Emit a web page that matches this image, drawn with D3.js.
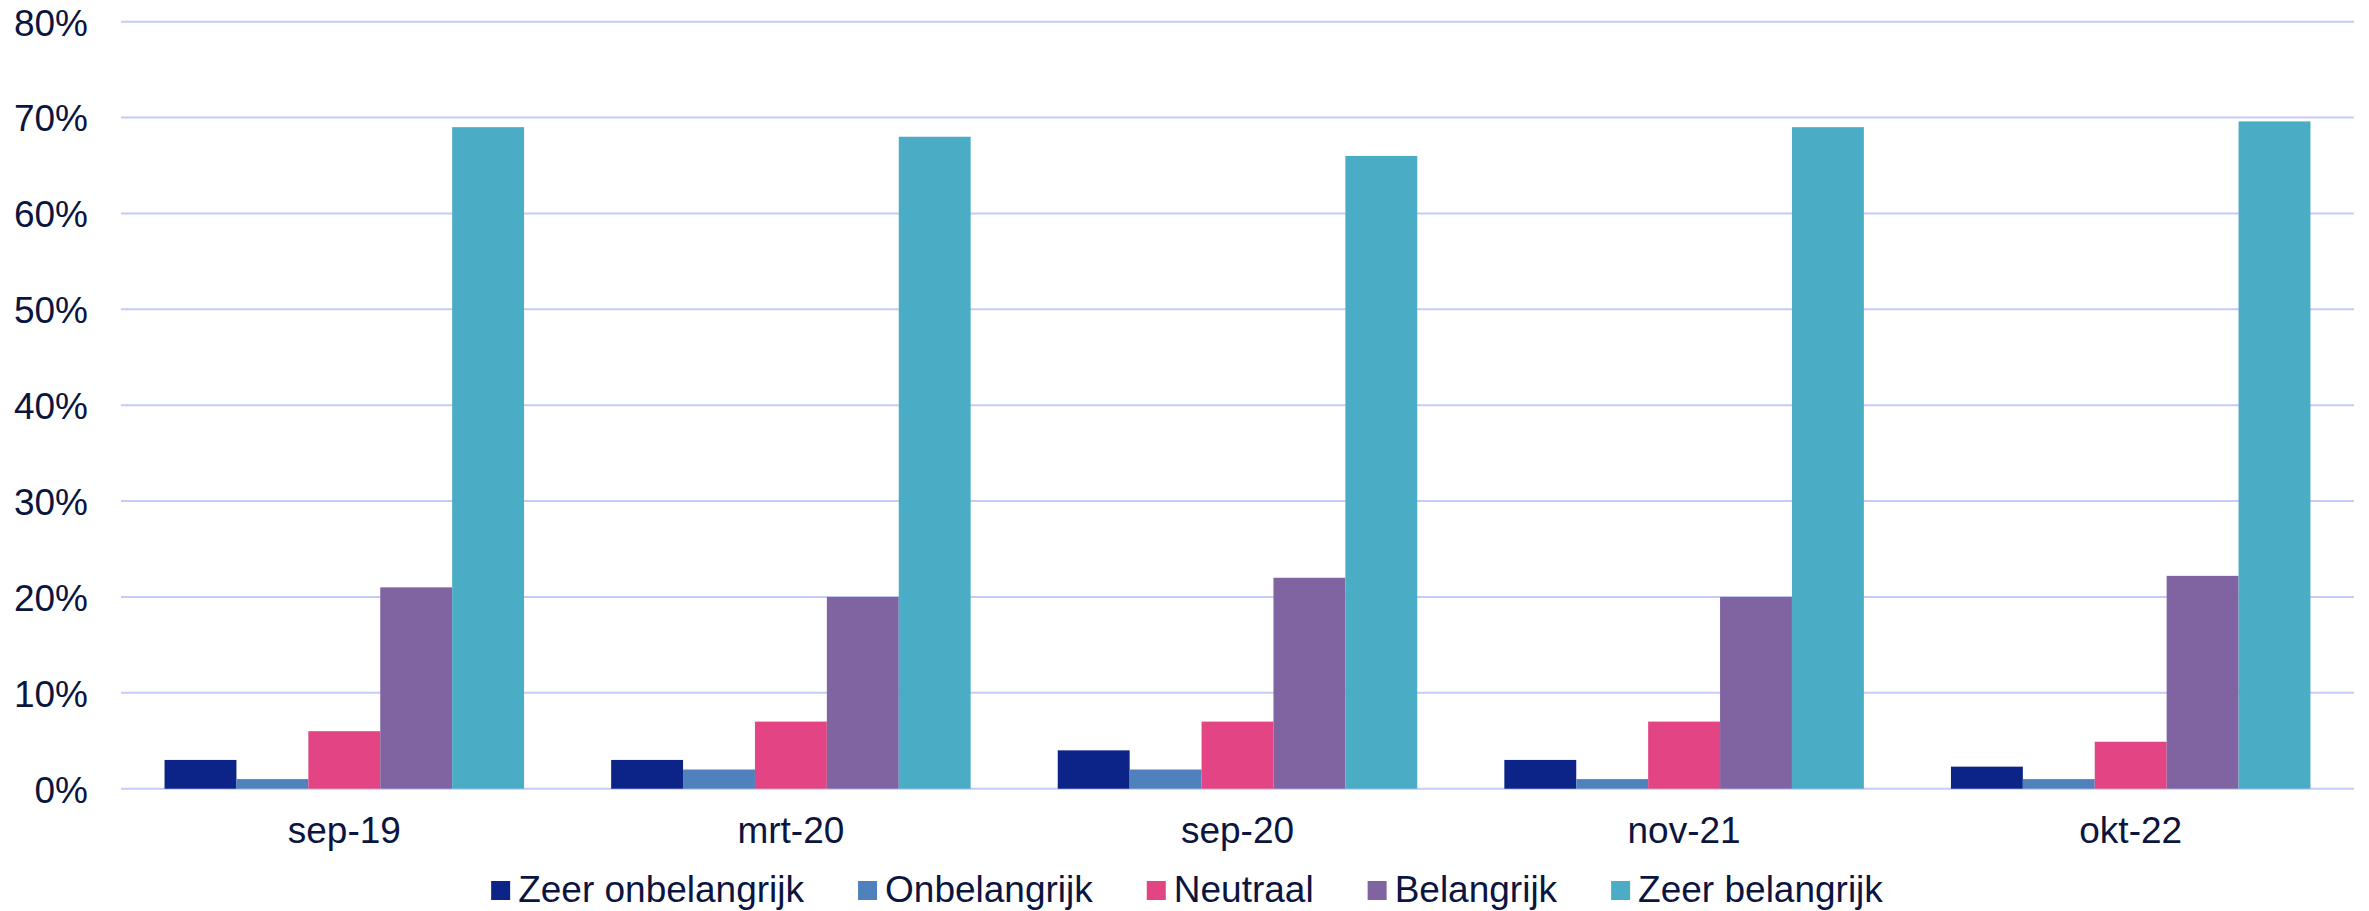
<!DOCTYPE html>
<html>
<head>
<meta charset="utf-8">
<script src="https://cdn.jsdelivr.net/npm/d3@7"></script>
<style>
  body { margin: 0; background: #fff; }
  text { font-family: "Liberation Sans", Arial, sans-serif; fill: #0b1540; }
</style>
</head>
<body>
<div id="chart"></div>
<script>
// data
const categories = ["sep-19", "mrt-20", "sep-20", "nov-21", "okt-22"];
const series = ["Zeer onbelangrijk", "Onbelangrijk", "Neutraal", "Belangrijk", "Zeer belangrijk"];
const zeerOnbelangrijk = [0.03, 0.03, 0.04, 0.03, 0.023];
const onbelangrijk = [0.01, 0.02, 0.02, 0.01, 0.01];
const neutraal = [0.06, 0.07, 0.07, 0.07, 0.049];
const belangrijk = [0.21, 0.20, 0.22, 0.20, 0.222];
const zeerBelangrijk = [0.69, 0.68, 0.66, 0.69, 0.696];
const yTicks = [0, 0.1, 0.2, 0.3, 0.4, 0.5, 0.6, 0.7, 0.8];

const colors = ["#0c2387", "#4f81bd", "#e34584", "#8064a2", "#4bacc6"];
const seriesValues = [zeerOnbelangrijk, onbelangrijk, neutraal, belangrijk, zeerBelangrijk];

const width = 2369,
  height = 911,
  plot = { left: 121, right: 2354, top: 21.7, bottom: 788.7 };

const svg = d3.select("#chart")
  .append("svg")
  .attr("width", width)
  .attr("height", height);

// scales
const x0 = d3.scaleBand()
  .domain(categories)
  .range([plot.left, plot.right])
  .paddingInner(0.195)
  .paddingOuter(0.0975);

const x1 = d3.scaleBand()
  .domain(series)
  .range([0, x0.bandwidth()]);

const y = d3.scaleLinear()
  .domain([0, 0.8])
  .range([plot.bottom, plot.top]);

// gridlines
svg.append("g")
  .selectAll("line")
  .data(yTicks)
  .join("line")
  .attr("x1", plot.left)
  .attr("x2", plot.right)
  .attr("y1", d => y(d))
  .attr("y2", d => y(d))
  .attr("stroke", "#c3cbf7")
  .attr("stroke-width", 2);

// Y axis labels
const yAxis = svg.append("g")
  .attr("transform", "translate(88,0)")
  .call(d3.axisLeft(y).tickValues(yTicks).tickFormat(d3.format(".0%")).tickSize(0).tickPadding(0));
yAxis.select(".domain").remove();
yAxis.selectAll("text")
  .attr("font-size", 37)
  .attr("dy", "0.36em");

// bars
const groups = svg.append("g")
  .selectAll("g")
  .data(categories)
  .join("g")
  .attr("transform", d => `translate(${x0(d)},0)`);

groups.selectAll("rect")
  .data((c, i) => series.map((s, j) => ({ key: s, value: seriesValues[j][i], color: colors[j] })))
  .join("rect")
  .attr("x", d => x1(d.key))
  .attr("width", x1.bandwidth())
  .attr("y", d => y(d.value))
  .attr("height", d => y(0) - y(d.value))
  .attr("fill", d => d.color);

// X axis labels
const xAxis = svg.append("g")
  .attr("transform", `translate(0,${plot.bottom})`)
  .call(d3.axisBottom(x0).tickSize(0).tickPadding(0));
xAxis.select(".domain").remove();
xAxis.selectAll("text")
  .attr("font-size", 37)
  .attr("dy", 0)
  .attr("y", 54.5);

// legend
const legend = svg.append("g");
const items = legend.selectAll("g")
  .data(series)
  .join("g");

items.append("rect")
  .attr("width", 19)
  .attr("height", 19)
  .attr("y", 881)
  .attr("fill", (d, i) => colors[i]);

items.append("text")
  .attr("x", 27)
  .attr("y", 902)
  .attr("font-size", 37)
  .text(d => d);

// lay out legend items side by side and centre them
let pos = 0;
items.each(function () {
  const w = 27 + d3.select(this).select("text").node().getComputedTextLength();
  d3.select(this).attr("transform", `translate(${pos},0)`);
  pos += w + 54;
});
const legendWidth = pos - 54;
legend.attr("transform", `translate(${1187 - legendWidth / 2},0)`);
</script>
</body>
</html>
